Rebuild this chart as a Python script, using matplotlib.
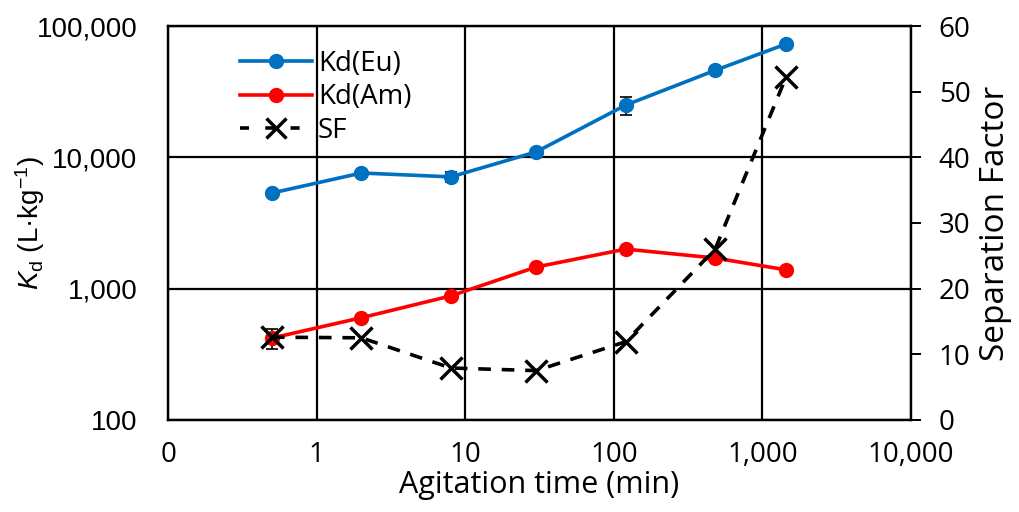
import numpy as np
import matplotlib
matplotlib.use("Agg")
import matplotlib.pyplot as plt
from matplotlib.lines import Line2D
from matplotlib.ticker import FixedLocator, FixedFormatter, NullLocator

plt.rcParams['font.family'] = ['Open Sans', 'DejaVu Sans']
plt.rcParams['mathtext.fontset'] = 'custom'
plt.rcParams['mathtext.rm'] = 'Liberation Sans'
plt.rcParams['mathtext.it'] = 'Liberation Sans:italic'

# agitation time (min)
time_min = [0.5, 2, 8, 30, 120, 480, 1440]
# distribution coefficients (L/kg)
kd_eu = [5350, 7600, 7100, 11000, 25000, 46000, 73000]
kd_eu_err = [300, 300, 600, 300, 3900, 800, 1000]
kd_am = [420, 600, 880, 1460, 2000, 1710, 1390]
kd_am_err = [75, 20, 20, 30, 40, 40, 40]
# separation factor Eu/Am
sf = [12.6, 12.5, 7.9, 7.5, 11.9, 26.0, 52.2]

x_ticks = [0.1, 1, 10, 100, 1000, 10000]
x_labels = ["0", "1", "10", "100", "1,000", "10,000"]
y_ticks = [100, 1000, 10000, 100000]
y_labels = ["100", "1,000", "10,000", "100,000"]

fig, ax = plt.subplots(figsize=(10.19, 5.12), dpi=100)
fig.subplots_adjust(left=0.165, right=0.894, top=0.949, bottom=0.18)

ax.set_xscale('log')
ax.set_yscale('log')
ax.set_xlim(0.1, 10000)
ax.set_ylim(100, 100000)

blue = '#0070C0'
red = '#FF0000'

ax.errorbar(time_min, kd_eu, yerr=kd_eu_err, color=blue, lw=2.6, marker='o', ms=10,
            ecolor='black', elinewidth=1.2, capsize=4, capthick=1.2, zorder=3)
ax.errorbar(time_min, kd_am, yerr=kd_am_err, color=red, lw=2.6, marker='o', ms=10,
            ecolor='black', elinewidth=1.2, capsize=4, capthick=1.2, zorder=3)

ax2 = ax.twinx()
ax2.set_ylim(0, 60)
ax2.plot(time_min, sf, color='black', lw=2.6, ls=(0, (3.5, 3)), marker='x', ms=16,
         mew=2.5, zorder=4)

ax.xaxis.set_major_locator(FixedLocator(x_ticks))
ax.xaxis.set_major_formatter(FixedFormatter(x_labels))
ax.xaxis.set_minor_locator(NullLocator())
ax.yaxis.set_major_locator(FixedLocator(y_ticks))
ax.yaxis.set_major_formatter(FixedFormatter(y_labels))
ax.yaxis.set_minor_locator(NullLocator())
ax2.set_yticks(range(0, 61, 10))

ax.grid(True, which='major', color='black', lw=1.6)
ax.set_axisbelow(True)
ax.tick_params(axis='x', length=0, labelsize=20, pad=15)
ax.tick_params(axis='y', length=0, labelsize=20, pad=22)
for lbl in ax.get_yticklabels():
    lbl.set_fontfamily('Liberation Sans')
ax2.tick_params(axis='y', length=7, width=1.4, direction='out', labelsize=20, pad=13)
for a in (ax, ax2):
    for s in a.spines.values():
        s.set_color('black')
        s.set_linewidth(1.6)

ax.set_xlabel('Agitation time (min)', fontsize=22, labelpad=1)
ax.set_ylabel(r'$\mathit{K}_{\mathrm{d}}$ (L·kg$^{-1}$)', fontsize=20,
              family='Liberation Sans')
ax.yaxis.set_label_coords(-0.163, 0.5)
ax2.set_ylabel('Separation Factor', fontsize=24, labelpad=6)

handles = [
    Line2D([], [], color=blue, lw=2.6, marker='o', ms=10),
    Line2D([], [], color=red, lw=2.6, marker='o', ms=10),
    Line2D([], [], color='black', lw=2.6, ls=(0, (2.5, 4.5)), marker='x', ms=14, mew=2.5),
]
ax.legend(handles, ['Kd(Eu)', 'Kd(Am)', 'SF'], loc='upper left',
          bbox_to_anchor=(0.097, 0.94), frameon=False, borderpad=0, borderaxespad=0,
          fontsize=20, handlelength=2.6, handletextpad=0.2, labelspacing=0.2)

fig.savefig('out.png', dpi=100)
